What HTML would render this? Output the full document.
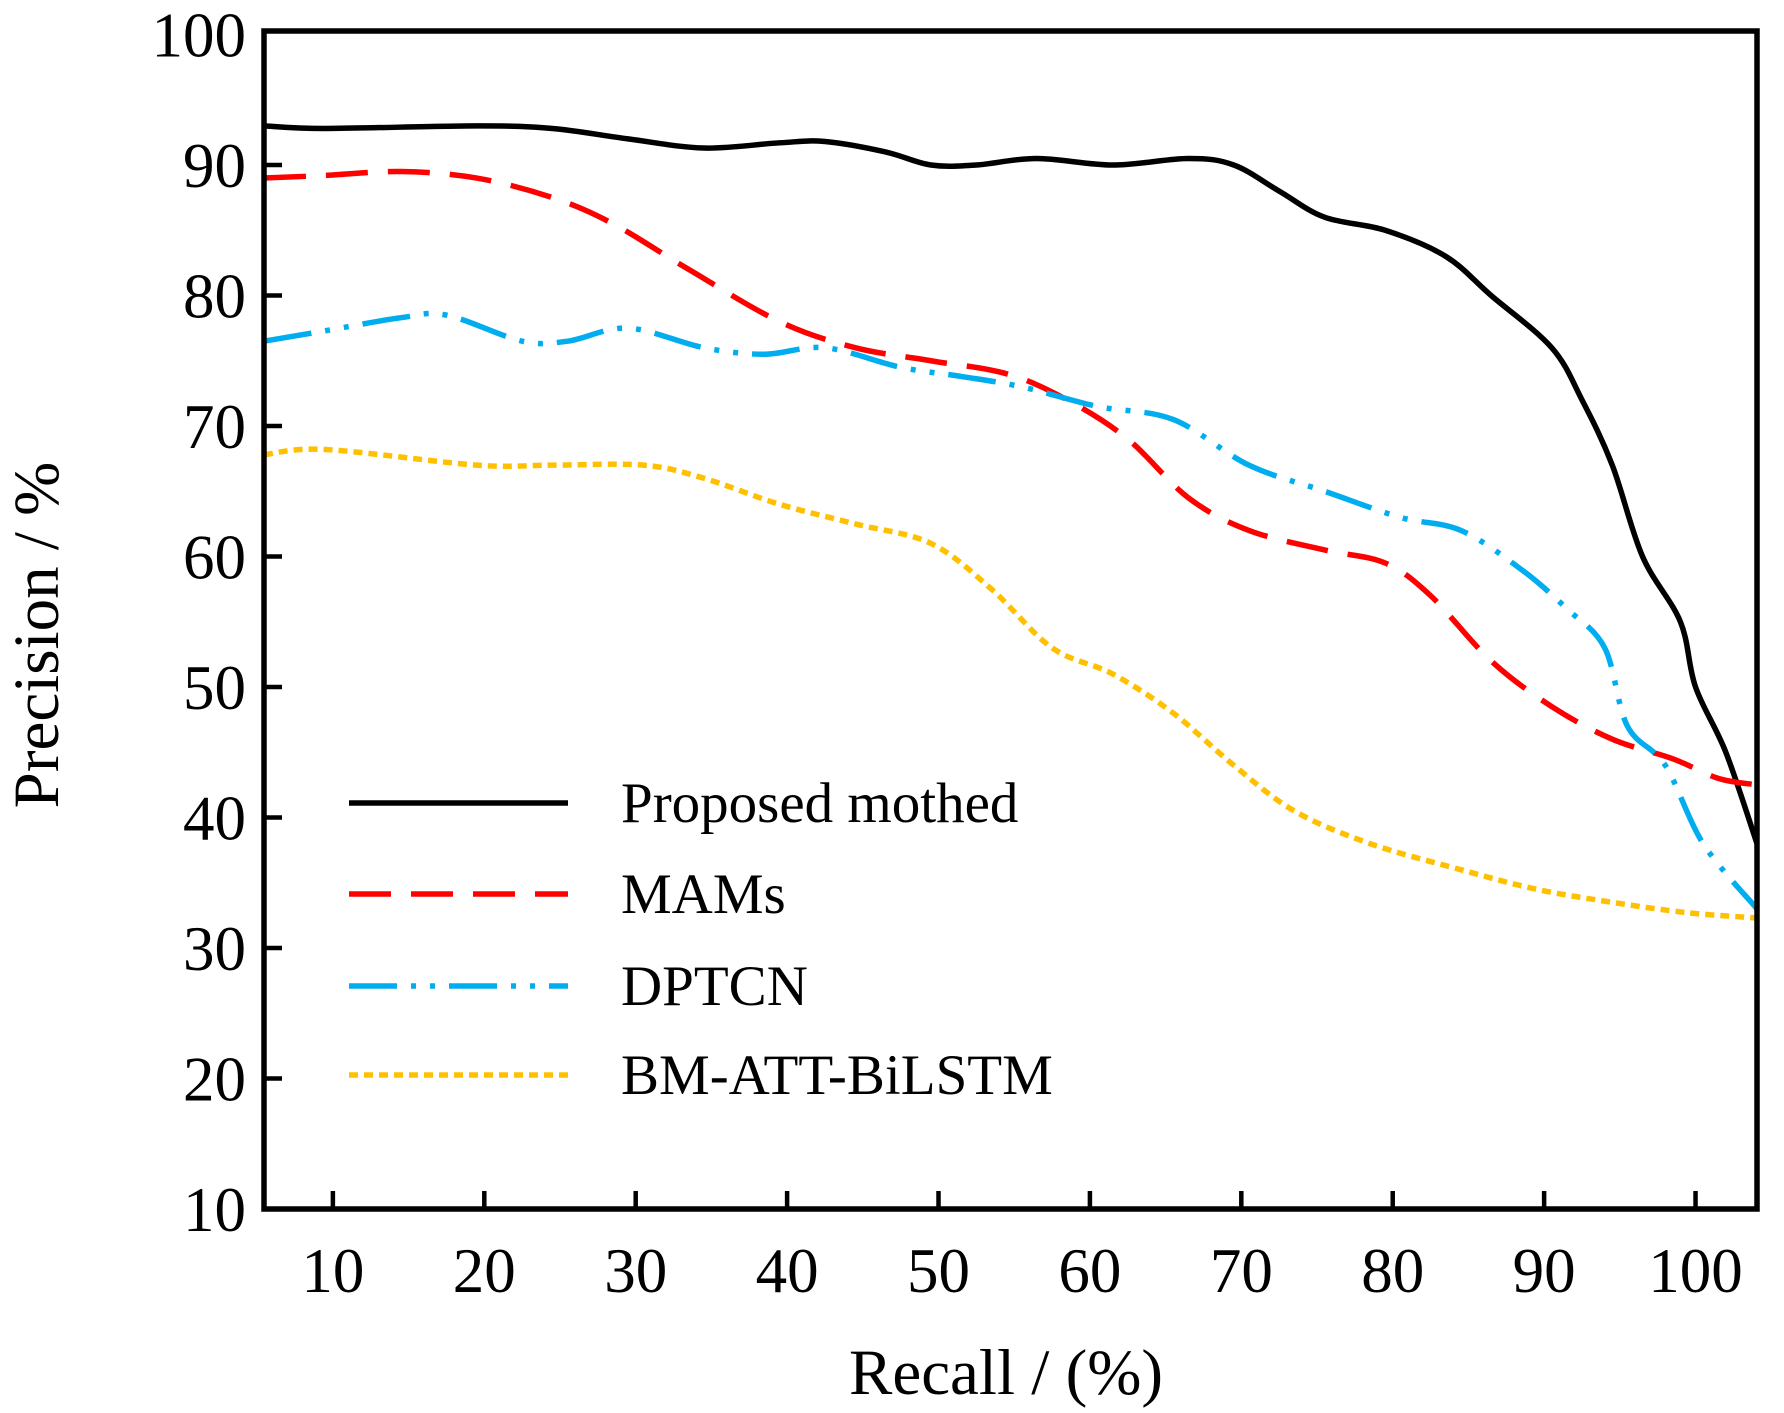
<!DOCTYPE html>
<html><head><meta charset="utf-8"><style>
html,body{margin:0;padding:0;background:#fff}
svg{display:block}
text{font-family:"Liberation Serif",serif;fill:#000}
</style></head><body>
<svg id="chart" width="1784" height="1413" viewBox="0 0 1784 1413" xmlns="http://www.w3.org/2000/svg">
<g id="series"></g>
<rect x="264" y="31" width="1493" height="1178" fill="none" stroke="#000" stroke-width="5.5"/>
<g id="ticks"></g>
<text x="1006" y="1394" font-size="65" text-anchor="middle">Recall / (%)</text>
<text transform="translate(58,635) rotate(-90)" font-size="65" text-anchor="middle">Precision / %</text>
<g id="legend"></g>
</svg>
<script>
const xTicks=[10,20,30,40,50,60,70,80,90,100];
const yTicks=[10,20,30,40,50,60,70,80,90,100];
const seriesNames=["Proposed mothed","MAMs","DPTCN","BM-ATT-BiLSTM"];
const propX=[5.45,9.5,19.5,24.5,29.5,34.5,39.5,42.5,46.5,49.5,52.5,56.5,61.5,66.5,69.5,72.5,75.5,79.5,83.5,86.5,90.5,92.5,94.5,96.5,99,100,102,104.06];
const propY=[93,92.8,93,92.8,92,91.3,91.7,91.8,91,90,90,90.5,90,90.5,90,88,86,85,83,80,76,72,67,60,55,50,45,38];
const mamX=[5.45,9.5,14.5,19.5,24.5,28.5,33.5,39.5,44.5,49.5,54.5,58.5,62.5,66.5,70.5,75.5,79.5,82.5,86.5,90.5,94.5,98.5,101.5,104.06];
const mamY=[89,89.2,89.5,89,87.5,85.5,82,78,76,75,74,72,69,64.5,62,60.5,59.5,57,52,48.5,46,44.5,43,42.5];
const dpX=[5.45,9.5,14.5,17.5,22.5,25.5,29.5,34.5,38.5,42.5,47.5,51.5,55.5,60.5,65.5,70.5,75.5,80.5,84.5,88.5,91.5,94,95.5,98,100.5,104.06];
const dpY=[76.5,77.3,78.3,78.5,76.5,76.5,77.5,76,75.5,76,74.5,73.8,73,71.5,70.5,67,65,63,62,59,56,53,47,44,38,33];
const bmX=[5.45,9.5,19.5,24.5,30.5,34.5,39.5,44.5,49.5,53.5,57.5,61.5,65.5,69.5,73.5,78.5,84.5,89.5,94.5,99.5,104.06];
const bmY=[67.8,68.2,67,67,67,66,64,62.5,61,57.5,53,51,48,44,40.5,38,36,34.5,33.5,32.7,32.3];
const NS="http://www.w3.org/2000/svg";
const X0=5.45,X1=104.06,L=264,R=1757,B=1209;
const sx=v=>L+(v-X0)*(R-L)/(X1-X0);
const sy=v=>B-(v-10)*13.05;
function mk(t,a,p){const e=document.createElementNS(NS,t);for(const k in a)e.setAttribute(k,a[k]);(p||document.getElementById('chart')).appendChild(e);return e;}
function smooth(xs,ys){const P=xs.map((x,i)=>[sx(x),sy(ys[i])]);let d="M"+P[0][0]+","+P[0][1];
for(let i=0;i<P.length-1;i++){const p0=P[Math.max(0,i-1)],p1=P[i],p2=P[i+1],p3=P[Math.min(P.length-1,i+2)];
const c1=[p1[0]+(p2[0]-p0[0])/6,p1[1]+(p2[1]-p0[1])/6],c2=[p2[0]-(p3[0]-p1[0])/6,p2[1]-(p3[1]-p1[1])/6];
d+=` C${c1[0]},${c1[1]} ${c2[0]},${c2[1]} ${p2[0]},${p2[1]}`;}return d;}
const styles=[["#000",""],["#ff0000","42 20"],["#00aeef","48 14 5 14 5 14"],["#ffc000","9 6"]];
const data=[[propX,propY],[mamX,mamY],[dpX,dpY],[bmX,bmY]];
const sg=document.getElementById('series');
data.forEach((d,i)=>{
 const p=mk('path',{d:smooth(d[0],d[1]),fill:'none',stroke:styles[i][0],'stroke-width':5.5,'stroke-dasharray':styles[i][1]},sg);
 
 
});
const tg=document.getElementById('ticks');
xTicks.forEach(v=>{
 const l=mk('line',{x1:sx(v),x2:sx(v),y1:B,y2:B-18,stroke:'#000','stroke-width':4.5},tg);
 
 
 const t=mk('text',{x:sx(v),y:1292,'font-size':63,'text-anchor':'middle'},tg);t.textContent=v;
 
 
});
yTicks.forEach(v=>{
 if(v>10&&v<100){const l=mk('line',{x1:L,x2:L+18,y1:sy(v),y2:sy(v),stroke:'#000','stroke-width':4.5},tg);
 
 }
 const t=mk('text',{x:246,y:sy(v)+22,'font-size':63,'text-anchor':'end'},tg);t.textContent=v;
 
 
});
const lg=document.getElementById('legend');
const ly=[803,894,986,1075];
seriesNames.forEach((n,i)=>{
 const l=mk('line',{x1:349,x2:568,y1:ly[i],y2:ly[i],stroke:styles[i][0],'stroke-width':5.5,'stroke-dasharray':styles[i][1]},lg);
 
 
 const t=mk('text',{x:621,y:ly[i]+19,'font-size':57},lg);t.textContent=n;
 
 
});
</script>
</body></html>
